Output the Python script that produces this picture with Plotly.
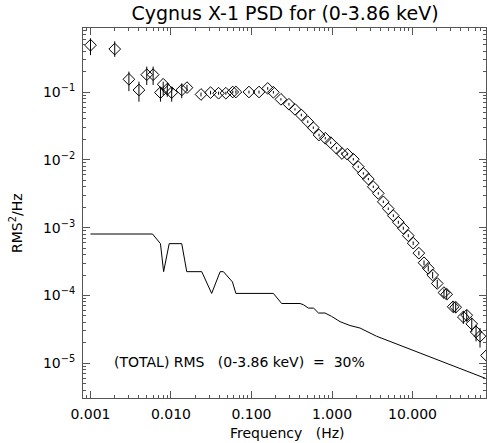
import plotly.graph_objects as go

freq = [0.001, 0.002, 0.003, 0.004, 0.005, 0.006, 0.0074, 0.008, 0.009, 0.0102,
        0.0136, 0.0158, 0.0236, 0.031, 0.039, 0.048, 0.0585, 0.064, 0.093, 0.124,
        0.159, 0.187, 0.232, 0.292, 0.347, 0.416, 0.50, 0.586, 0.69, 0.826,
        0.963, 1.14, 1.33, 1.55, 1.84, 2.12, 2.45, 2.83, 3.26, 3.76,
        4.34, 5.0, 5.78, 6.67, 7.69, 8.87, 10.2, 12.0, 13.9, 15.7,
        17.8, 20.3, 24.6, 26.6, 32.0, 34.4, 42.8, 47.2, 54.5, 61.6,
        69.0, 83.0]
psd = [0.49, 0.43, 0.154, 0.107, 0.18, 0.18, 0.098, 0.13, 0.11, 0.098,
       0.107, 0.116, 0.092, 0.098, 0.096, 0.096, 0.10, 0.10, 0.10, 0.10,
       0.113, 0.099, 0.078, 0.066, 0.0555, 0.0458, 0.0365, 0.0298, 0.0232, 0.0208,
       0.0179, 0.0148, 0.0124, 0.0121, 0.0102, 0.0079, 0.0063, 0.0052, 0.0040, 0.0032,
       0.0024, 0.0019, 0.0015, 0.0012, 0.00098, 0.00076, 0.00059, 0.00042, 0.000303, 0.000251,
       0.0002, 0.000150, 0.000110, 0.000104, 6.8e-5, 6.7e-5, 4.8e-5, 5.1e-5, 3.8e-5, 2.9e-5,
       2.5e-5, 1.3e-5]
err_up = [0.13, 0.13, 0.046, 0.035, 0.057, 0.057, 0.017, 0.012, 0.024, 0.02,
          0.027, 0.012, 0.006, 0.006, 0.005, 0.005, 0.005, 0.005, 0.005, 0.005,
          0.005, 0.004, 0.003, 0.003, 0.002, 0.002, 0.0015, 0.0012, 0.001, 0.0008,
          0.0007, 0.0006, 0.0005, 0.0005, 0.0004, 0.0003, 0.00025, 0.0002, 0.00016, 0.00013,
          0.0001, 8e-5, 7e-5, 6e-5, 5e-5, 4e-5, 3.5e-5, 3e-5, 2.5e-5, 2.5e-5,
          2.2e-5, 2e-5, 1.6e-5, 1.6e-5, 1.2e-5, 1.2e-5, 1.0e-5, 1.0e-5, 9e-6, 8e-6,
          8e-6, 5e-6]
err_dn = [0.14, 0.10, 0.051, 0.035, 0.053, 0.053, 0.026, 0.04, 0.025, 0.026,
          0.026, 0.012, 0.006, 0.006, 0.005, 0.005, 0.005, 0.005, 0.005, 0.005,
          0.005, 0.004, 0.003, 0.003, 0.002, 0.002, 0.0015, 0.0012, 0.001, 0.0008,
          0.0007, 0.0006, 0.0005, 0.0005, 0.0004, 0.0003, 0.00025, 0.0002, 0.00016, 0.00013,
          0.0001, 8e-5, 7e-5, 6e-5, 5e-5, 4e-5, 3.5e-5, 3e-5, 2.5e-5, 2.5e-5,
          2.2e-5, 2e-5, 1.6e-5, 1.6e-5, 1.2e-5, 1.2e-5, 1.0e-5, 1.0e-5, 9e-6, 8e-6,
          8e-6, 5e-6]

noise_freq = [0.001, 0.0059, 0.0074, 0.0081, 0.0095, 0.0136, 0.0157, 0.0241, 0.032, 0.0408,
              0.0448, 0.058, 0.064, 0.187, 0.237, 0.40, 0.44, 0.51, 0.59, 0.68,
              0.82, 0.99, 1.26, 1.67, 2.23, 2.83, 3.58, 80.0]
noise_psd = [0.000805, 0.000805, 0.00058, 0.000224, 0.00058, 0.00058, 0.000224, 0.000224, 0.000107, 0.000224,
             0.000224, 0.000158, 0.000107, 0.000107, 7.6e-5, 7.6e-5, 7.3e-5, 6.5e-5, 6.5e-5, 5.5e-5,
             5.5e-5, 4.9e-5, 4.1e-5, 3.6e-5, 3.3e-5, 2.9e-5, 2.5e-5, 6.0e-6]

x_tickvals = [0.001, 0.01, 0.1, 1, 10]
x_ticktext = ["0.001", "0.010", "0.100", "1.000", "10.000"]
y_tickvals = [1e-5, 1e-4, 1e-3, 1e-2, 1e-1]
y_ticktext = ["10<sup>\u22125</sup>", "10<sup>\u22124</sup>", "10<sup>\u22123</sup>",
              "10<sup>\u22122</sup>", "10<sup>\u22121</sup>"]

FONT = "DejaVu Sans"
AX = "#555555"
W, H = 487, 443
L, R, T, B = 83, 1, 28, 45

fig = go.Figure()
fig.add_trace(go.Scatter(x=noise_freq, y=noise_psd, mode="lines",
                         line=dict(color="black", width=1), showlegend=False))
fig.add_trace(go.Scatter(x=freq, y=psd, mode="markers",
                         marker=dict(symbol="diamond-open", size=9, color="black",
                                     line=dict(width=1, color="black")),
                         error_y=dict(type="data", symmetric=False, array=err_up,
                                      arrayminus=err_dn, color="black", thickness=1, width=0),
                         showlegend=False))

axis_common = dict(type="log", showgrid=False, zeroline=False, showline=True,
                   linecolor=AX, linewidth=1, mirror="ticks", ticks="inside",
                   ticklen=7, tickcolor=AX, tickwidth=1,
                   tickfont=dict(family=FONT, size=14, color="black"),
                   minor=dict(ticks="inside", ticklen=3, tickcolor=AX, dtick="D1"),
                   automargin=False)

fig.update_xaxes(range=[-3.093, 1.913], tickvals=x_tickvals, ticktext=x_ticktext,
                 ticklabelstandoff=3, **axis_common)
fig.update_yaxes(range=[-5.513, -0.056], tickvals=y_tickvals, ticktext=y_ticktext,
                 ticklabelstandoff=4, **axis_common)

pw, ph = W - L - R, H - T - B
fig.add_annotation(text="RMS<sup>2</sup>/Hz", xref="paper", yref="paper",
                   x=(16 - L) / pw, y=(H - B - 223) / ph, textangle=-90,
                   xanchor="center", yanchor="middle", showarrow=False,
                   font=dict(family=FONT, size=14, color="black"))
fig.add_annotation(text="Frequency\u00a0\u00a0\u00a0(Hz)", xref="paper", yref="paper",
                   x=(287 - L) / pw, y=(H - B - 433) / ph,
                   xanchor="center", yanchor="middle", showarrow=False,
                   font=dict(family=FONT, size=14, color="black"))
fig.add_annotation(text="(TOTAL) RMS\u00a0\u00a0\u00a0(0-3.86 keV)\u00a0\u00a0=\u00a0\u00a030%",
                   xref="paper", yref="paper", x=(112 - L) / pw, y=(H - B - 362) / ph,
                   xanchor="left", yanchor="middle", showarrow=False,
                   font=dict(family=FONT, size=14, color="black"))

fig.update_layout(
    width=W, height=H,
    margin=dict(l=L, r=R, t=T, b=B),
    paper_bgcolor="white", plot_bgcolor="white",
    title=dict(text="Cygnus X-1 PSD for (0-3.86 keV)", x=285 / W, xanchor="center",
               y=1 - 13 / H, yanchor="middle",
               font=dict(family=FONT, size=19, color="black")),
)

fig.write_html("out.html", config={"displayModeBar": False},
               post_script="document.body.style.margin='0px';document.body.style.padding='0px';")
